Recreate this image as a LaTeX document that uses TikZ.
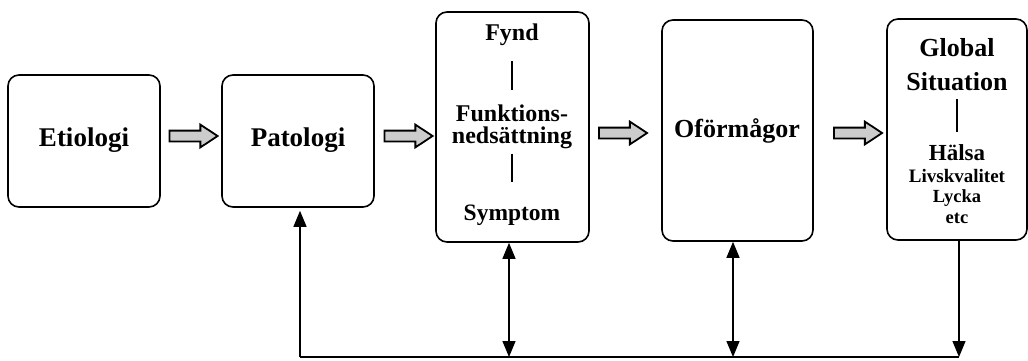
\documentclass[tikz,border=0pt]{standalone}
\usepackage{fontspec}
\setmainfont{Liberation Serif}
\usetikzlibrary{shapes.arrows,arrows.meta,calc}
\begin{document}
\begin{tikzpicture}[x=1pt,y=-1pt,
  box/.style={draw,line width=1.6pt,rounded corners=11pt,inner sep=0pt},
  lbl/.style={font=\bfseries\fontsize{#1}{#1}\selectfont,inner sep=0pt,anchor=base},
  blockarrow/.style={shape=single arrow,draw,line width=1.8pt,fill=gray!40,
    minimum height=48pt,inner xsep=0pt,inner ysep=4.5pt,
    single arrow head extend=6pt,single arrow tip angle=67},
  conn/.style={line width=1.3pt},
  tip/.style={-{Triangle[length=16pt,width=13pt]}},
  dtip/.style={{Triangle[length=16pt,width=13pt]}-{Triangle[length=16pt,width=13pt]}},
  sep/.style={line width=1.3pt}
]
\useasboundingbox (0,0) rectangle (1028,360);
% boxes
\node[box,minimum width=152pt,minimum height=132pt] (e) at (84,141) {};
\node[box,minimum width=152pt,minimum height=132pt] (p) at (298,141) {};
\node[box,minimum width=153pt,minimum height=230pt] (f) at (512.5,127) {};
\node[box,minimum width=151pt,minimum height=221pt] (o) at (737.5,130.5) {};
\node[box,minimum width=140pt,minimum height=221pt] (g) at (957,129.5) {};
% texts
\node[lbl=27] (etxt) at (84,146) {Etiologi};
\node[lbl=27] (ptxt) at (298,146) {Patologi};
\node[lbl=24] (fynd) at (512,40) {Fynd};
\node[lbl=23,align=center,font=\bfseries\fontsize{24}{22}\selectfont] (funk) at (512,143) {Funktions-\\nedsättning};
\node[lbl=23.5] (symp) at (512,220) {Symptom};
\node[lbl=26] (otxt) at (737,137) {Oförmågor};
\node[lbl=26,align=center,font=\bfseries\fontsize{26}{34}\selectfont] (gtxt) at (957,90) {Global\\Situation};
\node[lbl=23] (halsa) at (957,160) {Hälsa};
\node[lbl=19] (livs) at (957,182) {Livskvalitet};
\node[lbl=18.5] (lycka) at (957,202) {Lycka};
\node[lbl=18.5] (etc) at (957,223) {etc};
% separators
\draw[sep,shorten <=16pt,shorten >=14pt] (fynd.south) -- (funk.north);
\draw[sep,shorten <=5pt,shorten >=22pt] (funk.south) -- (symp.north);
\draw[sep,shorten <=8pt,shorten >=12pt] (gtxt.south) -- (halsa.north);
% block arrows
\node[blockarrow] (a1) at (189.5,136) {};
\node[blockarrow] (a2) at (404.5,136) {};
\node[blockarrow] (a3) at (619,133) {};
\node[blockarrow] (a4) at (854,133) {};
% feedback connectors
\coordinate (bl) at (300,357);
\coordinate (br) at (959,357);
\draw[conn] (bl) -- (br);
\draw[conn,tip,shorten >=3pt] (bl) -- (bl |- p.south);
\draw[conn,dtip] ([xshift=-3.5pt]f.south) -- ([xshift=-3.5pt]f.south |- bl);
\draw[conn,dtip] ([xshift=-4.5pt]o.south) -- ([xshift=-4.5pt]o.south |- bl);
\draw[conn,tip] (g.south -| br) -- (br);
\end{tikzpicture}
\end{document}
